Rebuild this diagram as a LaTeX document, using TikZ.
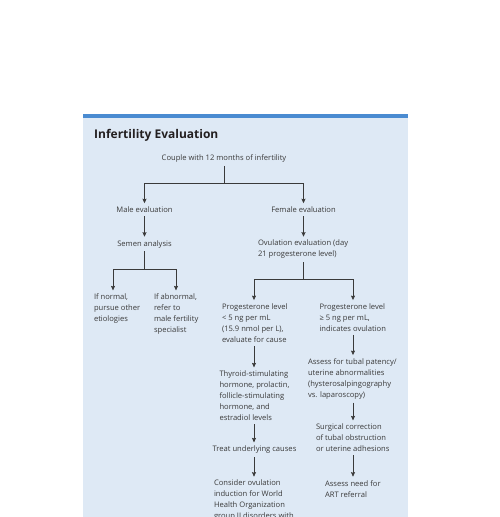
\documentclass[tikz,border=0pt]{standalone}
\usepackage{fontspec}
\setmainfont{Open Sans}
\usetikzlibrary{arrows.meta,calc}
\definecolor{panelbg}{HTML}{DEE9F5}
\definecolor{barblue}{HTML}{4A8BD1}
\definecolor{ink}{HTML}{3A3A3A}
\definecolor{titleink}{HTML}{231F20}
\begin{document}
\begin{tikzpicture}[x=1pt,y=-1pt,
  txt/.style={font=\fontsize{7.6}{11}\selectfont, text=ink, inner sep=0pt, outer xsep=0pt, outer ysep=3.5pt, align=left},
  ln/.style={draw=ink, line width=0.7pt},
  arr/.style={ln, -{Stealth[length=4.5pt,width=4pt,inset=0.6pt]}}
]
\useasboundingbox (0,0) rectangle (500,517);
\fill[panelbg] (83,117) rectangle (408,517);
\fill[barblue] (83,114) rectangle (408,118);

\node[anchor=base west, font=\bfseries\fontsize{12}{14}\selectfont, text=titleink, inner sep=0pt] (title) at (94,138) {Infertility Evaluation};

\node[txt, anchor=base] (couple) at (224,160.5) {Couple with 12 months of infertility};
\node[txt, anchor=base] (male) at (144.5,212.5) {Male evaluation};
\node[txt, anchor=base] (female) at (303.5,212.5) {Female evaluation};
\node[txt, anchor=base] (semen) at (144.5,246) {Semen analysis};
\node[txt, anchor=north west] (ovul) at (258,236.7) {Ovulation evaluation (day\\21 progesterone level)};
\node[txt, anchor=north west] (normal) at (94,290.4) {If normal,\\pursue other\\etiologies};
\node[txt, anchor=north west] (abnormal) at (154,290.4) {If abnormal,\\refer to\\male fertility\\specialist};
\node[txt, anchor=north west] (plow) at (222,300.1) {Progesterone level\\< 5 ng per mL\\(15.9 nmol per L),\\evaluate for cause};
\node[txt, anchor=north west] (phigh) at (319.5,300.1) {Progesterone level\\≥ 5 ng per mL,\\indicates ovulation};
\node[txt, anchor=north west] (tubal) at (308,355.1) {Assess for tubal patency/\\uterine abnormalities\\(hysterosalpingography\\vs. laparoscopy)};
\node[txt, anchor=north west] (thyroid) at (219.5,367.4) {Thyroid-stimulating\\hormone, prolactin,\\follicle-stimulating\\hormone, and\\estradiol levels};
\node[txt, anchor=north west] (surgical) at (316,420.4) {Surgical correction\\of tubal obstruction\\or uterine adhesions};
\node[txt, anchor=base] (treat) at (254.5,451.7) {Treat underlying causes};
\node[txt, anchor=north west] (consider) at (214,476.7) {Consider ovulation\\induction for World\\Health Organization\\group II disorders with};
\node[txt, anchor=north west] (artref) at (325,476.7) {Assess need for\\ART referral};

\coordinate (cN) at (113,0);
\coordinate (cA) at (176,0);
\coordinate (cL) at (254,0);
\coordinate (cR) at (353,0);
\coordinate (f1) at ($(couple.south)+(0,18)$);
\coordinate (f2) at ($(semen.south)+(0,17.7)$);
\coordinate (f3) at (303.5,279);

\draw[ln] (couple.south) -- (f1);
\draw[arr] (f1) -| (male.north);
\draw[arr] (f1) -| (female.north);
\draw[arr] (male.south) -- (semen.north);
\draw[arr] (female.south) -- (female.south |- ovul.north);

\draw[ln] (semen.south) -- (f2);
\draw[arr] (f2) -| (cN |- normal.north);
\draw[arr] (f2) -| (cA |- abnormal.north);

\draw[ln] (f3 |- ovul.south) -- (f3);
\draw[arr] (f3) -| (cL |- plow.north);
\draw[arr] (f3) -| (cR |- phigh.north);

\draw[arr] (cR |- phigh.south) -- (cR |- tubal.north);
\draw[arr] (cL |- plow.south) -- (cL |- thyroid.north);
\draw[arr] (cR |- tubal.south) -- (cR |- surgical.north);
\draw[arr] (cL |- thyroid.south) -- (cL |- treat.north);
\draw[arr] (cL |- treat.south) -- (cL |- consider.north);
\draw[arr] (cR |- surgical.south) -- (cR |- artref.north);
\end{tikzpicture}
\end{document}
